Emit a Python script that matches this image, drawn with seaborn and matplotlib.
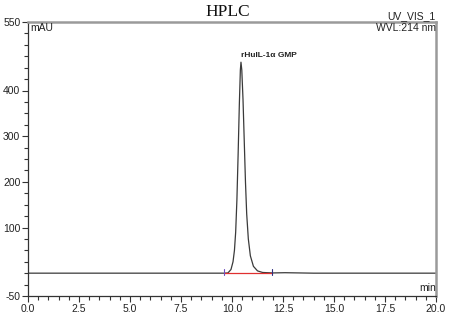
import matplotlib
matplotlib.use("Agg")
import matplotlib.pyplot as plt
import seaborn as sns
import pandas as pd
from matplotlib.ticker import MultipleLocator, FixedLocator

# Data
time_min = [0.0, 5.0, 9.60, 9.80, 9.95, 10.05, 10.12, 10.18, 10.24, 10.30, 10.36, 10.41,
            10.44, 10.48, 10.54, 10.60, 10.66, 10.72, 10.80, 10.90, 11.05, 11.25,
            11.50, 12.00, 12.60, 13.30, 14.0, 20.0]
signal_mau = [0.0, 0.0, 0.0, 0.5, 8, 25, 50, 90, 160, 260, 370, 445,
              462, 445, 380, 290, 200, 130, 75, 38, 15, 5,
              1.5, 0.5, 1.0, 0.5, 0.0, 0.0]

peak_name = "rHuIL-1α GMP"
peak_time = 10.44
peak_height = 462

integ_start = 9.62
integ_end = 11.95

x_ticks = [0.0, 2.5, 5.0, 7.5, 10.0, 12.5, 15.0, 17.5, 20.0]
y_ticks = [-50, 100, 200, 300, 400, 550]

sns.set_style("white")
plt.rcParams["font.family"] = ["Liberation Sans", "DejaVu Sans"]

fig = plt.figure(figsize=(4.56, 3.18), dpi=100)
ax = fig.add_axes([28/456, 1-296/318, 408/456, 274/318])

df = pd.DataFrame({"time": time_min, "signal": signal_mau})
sns.lineplot(data=df, x="time", y="signal", ax=ax, color="#3a3a3a", linewidth=0.9)

# integration baseline
ax.plot([integ_start, integ_end], [0.5, 0.5], color="#e03030", linewidth=0.9)
ax.plot([integ_start, integ_start], [-5, 10], color="#7050c0", linewidth=0.8)
ax.plot([integ_end, integ_end], [-5, 10], color="#303080", linewidth=0.8)

ax.set_xlim(0, 20)
ax.set_ylim(-50, 550)
ax.set_xlabel("")
ax.set_ylabel("")

ax.xaxis.set_major_locator(FixedLocator(x_ticks))
ax.set_xticklabels([f"{v:.1f}" for v in x_ticks])
ax.xaxis.set_minor_locator(MultipleLocator(0.5))
ax.yaxis.set_major_locator(FixedLocator(y_ticks))
ax.set_yticklabels([str(v) for v in y_ticks])
ax.yaxis.set_minor_locator(MultipleLocator(25))

ax.tick_params(axis="both", which="major", direction="out", length=4, width=0.8,
               color="#333333", labelsize=7.5, labelcolor="#222222", pad=1.5)
ax.tick_params(axis="both", which="minor", direction="out", length=3, width=0.8,
               color="#333333")
ax.tick_params(axis="x", bottom=True, which="both")
ax.tick_params(axis="y", left=True, which="both")

for s in ["left", "bottom"]:
    ax.spines[s].set_color("#333333")
    ax.spines[s].set_linewidth(0.9)
for s in ["top", "right"]:
    ax.spines[s].set_color("#9a9a9a")
    ax.spines[s].set_linewidth(1.8)

ax.text(peak_time - 0.02, peak_height + 8, peak_name, fontsize=6, fontweight="bold",
        color="#222222", ha="left", va="bottom")

ax.text(0.005, 0.995, "mAU", transform=ax.transAxes, fontsize=7.5, ha="left", va="top",
        color="#222222")
ax.text(1.0, 1.005, "UV_VIS_1", transform=ax.transAxes, fontsize=7.5, ha="right",
        va="bottom", color="#222222")
ax.text(1.0, 0.995, "WVL:214 nm", transform=ax.transAxes, fontsize=7.5, ha="right",
        va="top", color="#222222")
ax.text(1.0, 0.01, "min", transform=ax.transAxes, fontsize=7.5, ha="right",
        va="bottom", color="#222222")

fig.text(228/456, 1-12/318, "HPLC", fontsize=12.5, ha="center", va="center",
         family="Liberation Serif", color="#111111")

fig.savefig("out.png", dpi=100)
